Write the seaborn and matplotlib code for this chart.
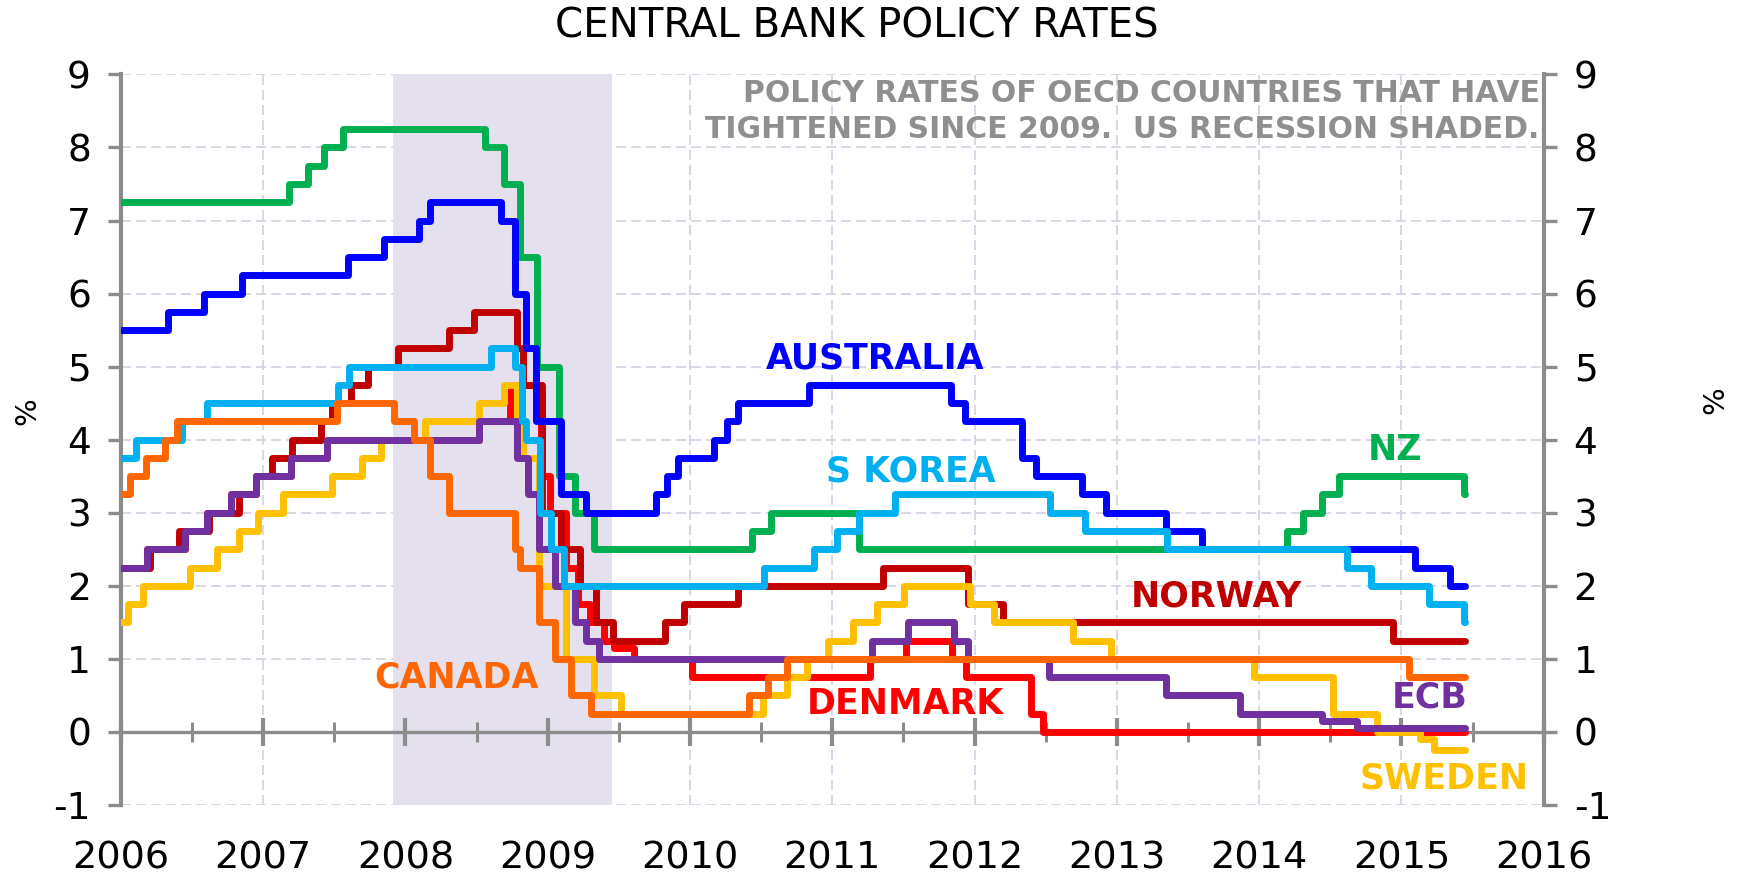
import numpy as np
import pandas as pd
import matplotlib
matplotlib.use("Agg")
import matplotlib.pyplot as plt
import seaborn as sns
from matplotlib.ticker import MultipleLocator, FuncFormatter

sns.set_theme(style="white")
plt.rcParams['font.family'] = ['DejaVu Sans']

# ---------------- data (policy-rate change dates and new rates, %) ----------------
END = "2015-06-12"

aus_dates = ["2006-01-01", "2006-05-03", "2006-08-02", "2006-11-08", "2007-08-08", "2007-11-07",
             "2008-02-06", "2008-03-05", "2008-09-03", "2008-10-08", "2008-11-05", "2008-12-03",
             "2009-02-04", "2009-04-08", "2009-10-07", "2009-11-04", "2009-12-02", "2010-03-03",
             "2010-04-07", "2010-05-05", "2010-11-03", "2011-11-02", "2011-12-07", "2012-05-02",
             "2012-06-06", "2012-10-03", "2012-12-05", "2013-05-08", "2013-08-07", "2015-02-04",
             "2015-05-06", END]
aus_rates = [5.50, 5.75, 6.00, 6.25, 6.50, 6.75, 7.00, 7.25, 7.00, 6.00, 5.25, 4.25, 3.25, 3.00,
             3.25, 3.50, 3.75, 4.00, 4.25, 4.50, 4.75, 4.50, 4.25, 3.75, 3.50, 3.25, 3.00, 2.75,
             2.50, 2.25, 2.00, 2.00]

nz_dates = ["2006-01-01", "2007-03-08", "2007-04-26", "2007-06-07", "2007-07-26", "2008-07-24",
            "2008-09-11", "2008-10-23", "2008-12-04", "2009-01-29", "2009-03-12", "2009-04-30",
            "2010-06-10", "2010-07-29", "2011-03-10", "2014-03-13", "2014-04-24", "2014-06-12",
            "2014-07-24", "2015-06-11", END]
nz_rates = [7.25, 7.50, 7.75, 8.00, 8.25, 8.00, 7.50, 6.50, 5.00, 3.50, 3.00, 2.50, 2.75, 3.00,
            2.50, 2.75, 3.00, 3.25, 3.50, 3.25, 3.25]

kor_dates = ["2006-01-01", "2006-02-09", "2006-06-08", "2006-08-10", "2007-07-12", "2007-08-09",
             "2008-08-07", "2008-10-09", "2008-10-27", "2008-11-07", "2008-12-11", "2009-01-09",
             "2009-02-12", "2010-07-09", "2010-11-16", "2011-01-13", "2011-03-10", "2011-06-10",
             "2012-07-12", "2012-10-11", "2013-05-09", "2014-08-14", "2014-10-15", "2015-03-12",
             "2015-06-11", END]
kor_rates = [3.75, 4.00, 4.25, 4.50, 4.75, 5.00, 5.25, 5.00, 4.25, 4.00, 3.00, 2.50, 2.00, 2.25,
             2.50, 2.75, 3.00, 3.25, 3.00, 2.75, 2.50, 2.25, 2.00, 1.75, 1.50, 1.50]

nor_dates = ["2006-01-01", "2006-03-16", "2006-05-31", "2006-08-16", "2006-11-01", "2006-12-13",
             "2007-01-24", "2007-03-15", "2007-05-30", "2007-06-27", "2007-08-15", "2007-09-26",
             "2007-12-12", "2008-04-23", "2008-06-25", "2008-10-15", "2008-10-29", "2008-12-17",
             "2009-02-04", "2009-03-25", "2009-05-06", "2009-06-17", "2009-10-28", "2009-12-16",
             "2010-05-05", "2011-05-12", "2011-12-14", "2012-03-14", "2014-12-10", END]
nor_rates = [2.25, 2.50, 2.75, 3.00, 3.25, 3.50, 3.75, 4.00, 4.25, 4.50, 4.75, 5.00, 5.25, 5.50,
             5.75, 5.25, 4.75, 3.00, 2.50, 2.00, 1.50, 1.25, 1.50, 1.75, 2.00, 2.25, 1.75, 1.50,
             1.25, 1.25]

dnk_dates = ["2006-01-01", "2006-03-08", "2006-06-15", "2006-08-09", "2006-10-11", "2006-12-13",
             "2007-03-14", "2007-06-13", "2008-07-09", "2008-09-25", "2008-12-16", "2009-01-08",
             "2009-02-16", "2009-03-20", "2009-04-20", "2009-05-25", "2009-06-20", "2009-08-10",
             "2010-01-05", "2011-04-08", "2011-07-08", "2011-11-04", "2011-12-09", "2012-05-25",
             "2012-06-25", END]
dnk_rates = [2.25, 2.50, 2.75, 3.00, 3.25, 3.50, 3.75, 4.00, 4.25, 4.75, 3.50, 3.00, 2.25, 1.75,
             1.50, 1.25, 1.15, 1.00, 0.75, 1.00, 1.25, 1.00, 0.75, 0.25, 0.00, 0.00]

can_dates = ["2006-01-01", "2006-01-24", "2006-03-07", "2006-04-25", "2006-05-24", "2007-07-10",
             "2007-12-04", "2008-01-22", "2008-03-04", "2008-04-22", "2008-10-08", "2008-10-21",
             "2008-12-09", "2009-01-20", "2009-03-03", "2009-04-21", "2010-06-01", "2010-07-20",
             "2010-09-08", "2015-01-21", END]
can_rates = [3.25, 3.50, 3.75, 4.00, 4.25, 4.50, 4.25, 4.00, 3.50, 3.00, 2.50, 2.25, 1.50, 1.00,
             0.50, 0.25, 0.50, 0.75, 1.00, 0.75, 0.75]

swe_dates = ["2006-01-01", "2006-01-20", "2006-02-27", "2006-06-27", "2006-09-05", "2006-10-31",
             "2006-12-20", "2007-02-21", "2007-06-27", "2007-09-11", "2007-10-31", "2008-02-20",
             "2008-07-09", "2008-09-10", "2008-10-15", "2008-10-29", "2008-12-10", "2009-02-18",
             "2009-04-29", "2009-07-08", "2010-07-06", "2010-09-07", "2010-10-27", "2010-12-21",
             "2011-02-22", "2011-04-26", "2011-07-05", "2011-12-21", "2012-02-21", "2012-09-11",
             "2012-12-18", "2013-12-18", "2014-07-09", "2014-10-29", "2015-02-18", "2015-03-25",
             END]
swe_rates = [1.50, 1.75, 2.00, 2.25, 2.50, 2.75, 3.00, 3.25, 3.50, 3.75, 4.00, 4.25, 4.50, 4.75,
             4.25, 3.75, 2.00, 1.00, 0.50, 0.25, 0.50, 0.75, 1.00, 1.25, 1.50, 1.75, 2.00, 1.75,
             1.50, 1.25, 1.00, 0.75, 0.25, 0.00, -0.10, -0.25, -0.25]

ecb_dates = ["2006-01-01", "2006-03-08", "2006-06-15", "2006-08-09", "2006-10-11", "2006-12-13",
             "2007-03-14", "2007-06-13", "2008-07-09", "2008-10-15", "2008-11-12", "2008-12-10",
             "2009-01-21", "2009-03-11", "2009-04-08", "2009-05-13", "2011-04-13", "2011-07-13",
             "2011-11-09", "2011-12-14", "2012-07-11", "2013-05-08", "2013-11-13", "2014-06-11",
             "2014-09-10", END]
ecb_rates = [2.25, 2.50, 2.75, 3.00, 3.25, 3.50, 3.75, 4.00, 4.25, 3.75, 3.25, 2.50, 2.00, 1.50,
             1.25, 1.00, 1.25, 1.50, 1.25, 1.00, 0.75, 0.50, 0.25, 0.15, 0.05, 0.05]

recession = ["2007-12-01", "2009-06-15"]

# label text, anchor (year, %)
labels = ["AUSTRALIA", "S KOREA", "NZ", "NORWAY", "CANADA", "DENMARK", "ECB", "SWEDEN"]
label_x = [2011.30, 2011.55, 2014.955, 2013.70, 2008.36, 2011.515, 2015.20, 2015.30]
label_y = [5.11, 3.57, 3.86, 1.855, 0.745, 0.38, 0.47, -0.64]

colors = {"DENMARK": "#FF0000", "NORWAY": "#C00000", "NZ": "#00B050", "AUSTRALIA": "#0000FF",
          "SWEDEN": "#FFC000", "ECB": "#7030A0", "S KOREA": "#00B0F0", "CANADA": "#FF6600"}

# drawing order (bottom to top)
series = [("DENMARK", dnk_dates, dnk_rates), ("NORWAY", nor_dates, nor_rates),
          ("NZ", nz_dates, nz_rates), ("AUSTRALIA", aus_dates, aus_rates),
          ("SWEDEN", swe_dates, swe_rates), ("ECB", ecb_dates, ecb_rates),
          ("S KOREA", kor_dates, kor_rates), ("CANADA", can_dates, can_rates)]


def to_year(dates):
    d = pd.to_datetime(pd.Series(dates))
    ndays = 365 + d.dt.is_leap_year.astype(int)
    return (d.dt.year + (d.dt.dayofyear - 1) / ndays).to_numpy(dtype=float)


GRAY = "#8C8C8C"
FW, FH = 1741, 877
x0, x1, ytop, ybot = 120.8, 1543.8, 74.4, 805.0
rect = [x0 / FW, 1 - ybot / FH, (x1 - x0) / FW, (ybot - ytop) / FH]

fig = plt.figure(figsize=(FW / 100, FH / 100), dpi=100)
fig.patch.set_facecolor("white")
ax_bg = fig.add_axes(rect)
ax = fig.add_axes(rect, sharex=ax_bg, sharey=ax_bg)
ax.patch.set_visible(False)

ax_bg.set_xlim(2006, 2016)
ax_bg.set_ylim(-1, 9)
ax_bg.xaxis.set_major_locator(MultipleLocator(1))
ax_bg.xaxis.set_minor_locator(MultipleLocator(0.5))
ax_bg.yaxis.set_major_locator(MultipleLocator(1))
ax_bg.xaxis.set_major_formatter(FuncFormatter(lambda v, p: f"{int(round(v))}"))
ax_bg.yaxis.set_major_formatter(FuncFormatter(lambda v, p: f"{int(round(v))}"))

# background layer: grid + recession shading
ax_bg.set_axisbelow(True)
ax_bg.grid(True, which="major", color="#D6CFE3", linestyle=(0, (6, 3)), linewidth=1.2)
rs = to_year(recession)
ax_bg.axvspan(rs[0], rs[1], color="#E4E0ED", zorder=1, lw=0)
for s in ax_bg.spines.values():
    s.set_visible(False)
ax_bg.tick_params(axis="both", which="both", length=0, labelleft=False, labelright=False)
ax_bg.tick_params(axis="x", labelbottom=True, labelsize=27.5, pad=25.5, colors="black")

# front layer: axes lines, ticks, data
ax.set_axisbelow(False)
ax.spines["top"].set_visible(False)
ax.spines["bottom"].set_position(("data", 0))
for k in ["left", "right", "bottom"]:
    ax.spines[k].set_color(GRAY)
ax.spines["left"].set_linewidth(3.0)
ax.spines["right"].set_linewidth(3.0)
ax.spines["bottom"].set_linewidth(2.4)
ax.tick_params(axis="x", which="major", direction="inout", length=20, width=3.0, color=GRAY,
               labelbottom=False, bottom=True, top=False)
ax.tick_params(axis="x", which="minor", direction="inout", length=15, width=2.2, color=GRAY,
               bottom=True, top=False)
ax.tick_params(axis="y", which="major", direction="out", length=9.5, width=2.4, color=GRAY,
               left=True, right=True, labelleft=True, labelright=True, labelsize=27, pad=12,
               labelcolor="black")

for i, (name, dts, vals) in enumerate(series):
    sns.lineplot(x=to_year(dts), y=np.asarray(vals, dtype=float), ax=ax, color=colors[name],
                 linewidth=5.0, drawstyle="steps-post", sort=False, estimator=None,
                 legend=False, zorder=3 + i, solid_capstyle="round")

for t, lx, ly in zip(labels, label_x, label_y):
    ax.text(lx, ly, t, color=colors[t], fontsize=25, fontweight="bold", ha="center",
            va="center", zorder=20)

ax.text(2015.97, 8.74, "POLICY RATES OF OECD COUNTRIES THAT HAVE", ha="right", va="center",
        color="#8F8F8F", fontsize=21.5, fontweight="bold", zorder=20)
ax.text(2015.97, 8.25, "TIGHTENED SINCE 2009.  US RECESSION SHADED.", ha="right", va="center",
        color="#8F8F8F", fontsize=21.5, fontweight="bold", zorder=20)

ax.set_xlabel("")
ax.set_ylabel("")
ax.text(-0.0654, 0.539, "%", rotation=90, transform=ax.transAxes, ha="center", va="center",
        fontsize=21, color="black")
ax.text(1.1207, 0.5547, "%", rotation=90, transform=ax.transAxes, ha="center", va="center",
        fontsize=21, color="black")

fig.text(0.492, 0.970, "CENTRAL BANK POLICY RATES", ha="center", va="center", fontsize=29,
         color="black")

fig.savefig("out.png", dpi=100, facecolor="white")
